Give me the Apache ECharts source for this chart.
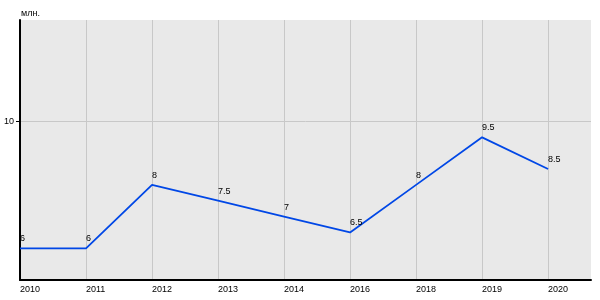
<!DOCTYPE html>
<html><head><meta charset="utf-8">
<script src="https://cdn.jsdelivr.net/npm/echarts@6/dist/echarts.min.js"></script>
<style>html,body{margin:0;padding:0;background:#fff}#c{width:600px;height:300px}</style>
</head><body><div id="c"></div>
<script>
const categories = ['2010','2011','2012','2013','2014','2016','2018','2019','2020'];
const values = [6, 6, 8, 7.5, 7, 6.5, 8, 9.5, 8.5];
const unitLabel = 'млн.';

const chart = echarts.init(document.getElementById('c'), null, {renderer:'canvas'});
const font = 'Liberation Sans, Arial, sans-serif';
chart.setOption({
  animation: false,
  graphic: [{type:'text', left: 21, top: 9, style:{text: unitLabel, font: '9px ' + font, fill:'#000'}}],
  grid: {left: 20, right: 9, top: 20, bottom: 20, show: true, backgroundColor: '#e9e9e9', borderWidth: 0},
  xAxis: {
    type: 'value', min: 0, max: 8.65, interval: 1,
    axisLine: {show: true, lineStyle: {color: '#000', width: 2}},
    axisTick: {show: false},
    splitLine: {show: true, lineStyle: {color: ['#c8c8c8','#c8c8c8','#c8c8c8','#c8c8c8','#c8c8c8','#c8c8c8','#c8c8c8','#c8c8c8','#c8c8c8','rgba(0,0,0,0)'], width: 1}},
    axisLabel: {
      align: 'left', margin: 5, fontSize: 9, fontFamily: font, color: '#000',
      formatter: v => (Number.isInteger(v) && categories[v] !== undefined) ? categories[v] : ''
    }
  },
  yAxis: {
    type: 'value', min: 5, max: 13.2, interval: 5,
    axisLine: {show: true, lineStyle: {color: '#000', width: 2}},
    axisTick: {show: true, length: 4, lineStyle: {color: '#000'}},
    splitLine: {show: true, lineStyle: {color: ['rgba(0,0,0,0)','#c8c8c8','rgba(0,0,0,0)'], width: 1}},
    axisLabel: {showMinLabel: false, showMaxLabel: false, fontSize: 9, fontFamily: font, color: '#000', margin: 6,
      formatter: v => v === 10 ? '10' : ''}
  },
  series: [{
    type: 'line',
    data: values.map((v, i) => [i, v]),
    symbol: 'circle', symbolSize: 0, showSymbol: true,
    lineStyle: {color: '#0047e6', width: 1.8},
    itemStyle: {color: '#0047e6'},
    label: {show: true, position: 'top', align: 'left', distance: 5, fontSize: 9, fontFamily: font, color: '#000'}
  }]
});
</script></body></html>
